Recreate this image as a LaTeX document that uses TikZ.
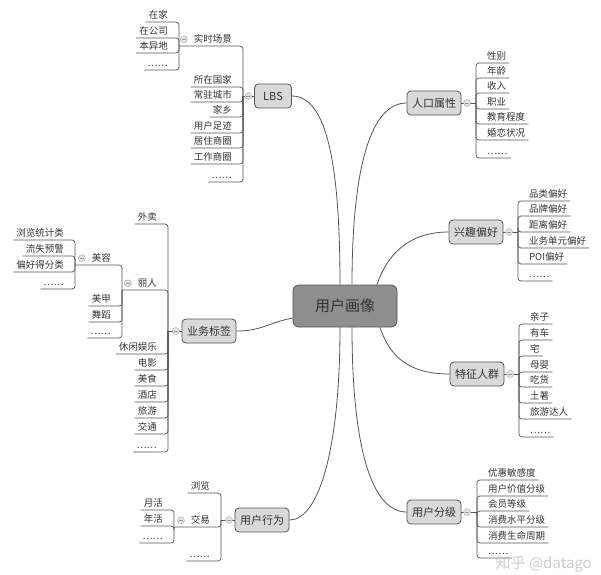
\documentclass[tikz,border=0pt]{standalone}
\usepackage{fontspec}
\setmainfont{Noto Sans CJK SC}
\usetikzlibrary{positioning,calc}
\definecolor{linegray}{HTML}{555555}
\definecolor{textgray}{HTML}{333333}
\definecolor{topicfill}{HTML}{D9D9D9}
\definecolor{rootfill}{HTML}{8E8E8E}
\tikzset{
  branch/.style={draw=linegray,line width=0.7pt,rounded corners=3pt},
  trunk/.style={draw=linegray,line width=0.8pt},
  leaf/.style={font=\fontsize{9.5}{11}\selectfont,text=textgray,inner xsep=3pt,inner ysep=1.5pt,text height=8pt,text depth=2pt},
  topic/.style={draw=linegray,fill=topicfill,rounded corners=4pt,line width=0.8pt,font=\fontsize{11}{13}\selectfont,text=textgray,minimum width=37pt,minimum height=24pt,inner xsep=5pt},
  root/.style={topic,fill=rootfill,minimum width=104pt,minimum height=42pt,rounded corners=6pt,font=\fontsize{15}{18}\selectfont},
  fold/.style={circle,draw=gray!70,fill=gray!20,minimum size=7pt,inner sep=0pt,
    path picture={\draw[gray!80,line width=0.5pt] ([xshift=-2pt]path picture bounding box.center) -- ([xshift=2pt]path picture bounding box.center);}},
}
\begin{document}
\begin{tikzpicture}[x=1pt,y=-1pt]
\useasboundingbox (0,0) rectangle (601,574);

% topics
\node[root] (user) at (345,306) {用户画像};
\node[topic] (lbs) at (273,96) {LBS};
\node[topic] (demo) at (434,103) {人口属性};
\node[topic] (pref) at (476,232) {兴趣偏好};
\node[topic] (biz) at (209,331) {业务标签};
\node[topic] (crowd) at (477,374) {特征人群};
\node[topic] (act) at (262,520) {用户行为};
\node[topic] (grade) at (434,512) {用户分级};

% trunk curves
\draw[trunk] ([xshift=-5pt]user.north) .. controls +(0,-120) and +(35,0) .. (lbs.east);
\draw[trunk] ([xshift=7pt]user.north) .. controls +(0,-120) and +(-35,0) .. (demo.west);
\draw[trunk] ([xshift=32pt]user.north) .. controls +(10,-30) and +(-40,0) .. (pref.west);
\draw[trunk] ([yshift=-12pt]user.west) .. controls +(-25,5) and +(25,0) .. (biz.east);
\draw[trunk] ([xshift=35pt]user.south) .. controls +(10,30) and +(-40,0) .. (crowd.west);
\draw[trunk] ([xshift=-5pt]user.south) .. controls +(0,120) and +(30,0) .. (act.east);
\draw[trunk] ([xshift=7pt]user.south) .. controls +(0,120) and +(-35,0) .. (grade.west);

% junctions
\coordinate (jlbs) at (243,96);
\coordinate (jdemo) at (476,103);
\coordinate (jpref) at (518,232);
\coordinate (jbiz) at (168,331);
\coordinate (jcrowd) at (519,374);
\coordinate (jact) at (221,520);
\coordinate (jgrade) at (477,512);
\coordinate (jscene) at (179,46);
\coordinate (jbeauty) at (122,290);
\coordinate (jcare) at (75,265);
\coordinate (jdeal) at (174,527);

\draw[branch] (lbs.west) -- (jlbs);
\draw[branch] (demo.east) -- (jdemo);
\draw[branch] (pref.east) -- (jpref);
\draw[branch] (biz.west) -- (jbiz);
\draw[branch] (crowd.east) -- (jcrowd);
\draw[branch] (act.west) -- (jact);
\draw[branch] (grade.east) -- (jgrade);

% right side leaves
\foreach \txt/\y [count=\i] in {性别/63,年龄/78,收入/93,职业/109,教育程度/124,婚恋状况/140,……/158}{
  \node[leaf,anchor=south west] (demo\i) at (484,\y) {\txt};
  \draw[branch] (jdemo) |- (demo\i.south west) -- (demo\i.south east);
}
\foreach \txt/\y [count=\i] in {品类偏好/201,品牌偏好/216,距离偏好/232,业务单元偏好/248,POI偏好/264,……/281}{
  \node[leaf,anchor=south west] (pref\i) at (526,\y) {\txt};
  \draw[branch] (jpref) |- (pref\i.south west) -- (pref\i.south east);
}
\foreach \txt/\y [count=\i] in {亲子/324,有车/340,宅/356,母婴/372,吃货/387,土著/403,旅游达人/419,……/437}{
  \node[leaf,anchor=south west] (crowd\i) at (527,\y) {\txt};
  \draw[branch] (jcrowd) |- (crowd\i.south west) -- (crowd\i.south east);
}
\foreach \txt/\y [count=\i] in {优惠敏感度/480,用户价值分级/496,会员等级/511,消费水平分级/527,消费生命周期/543,……/558}{
  \node[leaf,anchor=south west] (grade\i) at (485,\y) {\txt};
  \draw[branch] (jgrade) |- (grade\i.south west) -- (grade\i.south east);
}

% LBS
\node[leaf,anchor=south east] (scene) at (235,46) {实时场景};
\draw[branch] (jlbs) |- (jscene);
\foreach \txt/\y [count=\i] in {所在国家/87,常驻城市/102,家乡/117,用户足迹/133,居住商圈/148,工作商圈/164,……/182}{
  \node[leaf,anchor=south east] (lbs\i) at (235,\y) {\txt};
  \draw[branch] (jlbs) |- (lbs\i.south east) -- (lbs\i.south west);
}
\foreach \txt/\y [count=\i] in {在家/22,在公司/38,本异地/53,……/70}{
  \node[leaf,anchor=south east] (scene\i) at (171,\y) {\txt};
  \draw[branch] (jscene) |- (scene\i.south east) -- (scene\i.south west);
}

% business tags
\node[leaf,anchor=south east] (beauty) at (160,290) {丽人};
\draw[branch] (jbiz) |- (jbeauty);
\foreach \txt/\y [count=\i] in {外卖/224,休闲娱乐/354,电影/370,美食/386,酒店/402,旅游/418,交通/434,……/452}{
  \node[leaf,anchor=south east] (biz\i) at (160,\y) {\txt};
  \draw[branch] (jbiz) |- (biz\i.south east) -- (biz\i.south west);
}
\node[leaf,anchor=south east] (care) at (114,265) {美容};
\draw[branch] (jbeauty) |- (jcare);
\foreach \txt/\y [count=\i] in {美甲/306,舞蹈/322,……/338}{
  \node[leaf,anchor=south east] (beauty\i) at (114,\y) {\txt};
  \draw[branch] (jbeauty) |- (beauty\i.south east) -- (beauty\i.south west);
}
\foreach \txt/\y [count=\i] in {浏览统计类/240,流失预警/256,偏好得分类/272,……/289}{
  \node[leaf,anchor=south east] (care\i) at (67,\y) {\txt};
  \draw[branch] (jcare) |- (care\i.south east) -- (care\i.south west);
}

% user behaviour
\node[leaf,anchor=south east] (deal) at (213,527) {交易};
\draw[branch] (jact) |- (jdeal);
\foreach \txt/\y [count=\i] in {浏览/493,……/561}{
  \node[leaf,anchor=south east] (act\i) at (213,\y) {\txt};
  \draw[branch] (jact) |- (act\i.south east) -- (act\i.south west);
}
\foreach \txt/\y [count=\i] in {月活/510,年活/526,……/543}{
  \node[leaf,anchor=south east] (deal\i) at (166,\y) {\txt};
  \draw[branch] (jdeal) |- (deal\i.south east) -- (deal\i.south west);
}

% fold buttons
\node[fold,left=2pt of lbs] (flbs) {};
\node[fold,right=2pt of demo] (fdemo) {};
\node[fold,right=2pt of pref] (fpref) {};
\node[fold,left=2pt of biz] (fbiz) {};
\node[fold,right=2pt of crowd] (fcrowd) {};
\node[fold,left=2pt of act] (fact) {};
\node[fold,right=2pt of grade] (fgrade) {};
\node[fold,left=3pt of scene] (fscene) {};
\node[fold,left=3pt of beauty] (fbeauty) {};
\node[fold,left=3pt of care] (fcare) {};
\node[fold,left=3pt of deal] (fdeal) {};

% watermark
\node[text=gray!50,font=\fontsize{15}{18}\selectfont,opacity=0.8,inner sep=0pt,anchor=south east] (mark) at (592,572) {知乎 @datago};
\end{tikzpicture}
\end{document}
